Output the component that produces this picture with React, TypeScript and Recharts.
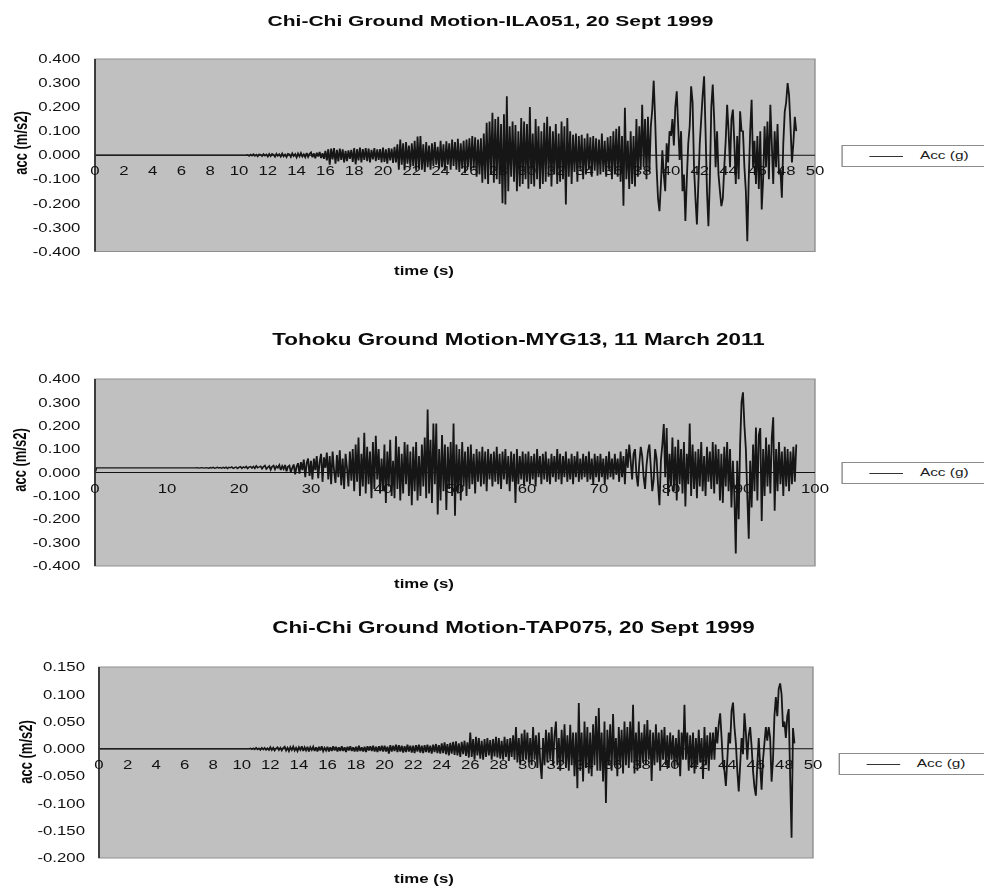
import React from "react";
import {
  LineChart,
  Line,
  XAxis,
  YAxis,
  CartesianGrid,
  ReferenceLine,
  ReferenceDot,
  ReferenceArea,
  Legend,
} from "recharts";

// the source picture is stretched sideways, so everything is drawn narrow and scaled
const SX = 1.4;
const PAGE_W = 984;
const INNER_W = PAGE_W / SX;
const FONT = '"Liberation Sans", Arial, sans-serif';
const SERIES_NAME = "Acc (g)";

// ---- Chi-Chi ILA051, acc (g), one sample every 0.1 s ----
const ILA051_DT = 0.1;
const ILA051_ACC = [
  0,0,0,0,0,0,0,0,0,0, 0,0,0,0,0,0,0,0,0,0, 0,0,0,0,0,0,0,0,0,0, 0,0,0,0,0,0,0,0,0,0, 0,0,0,0,0,0,0,0,0,0,
  0,0,0,0,0,0,0,0,0,0, 0,0,0,0,0,0,0,0,0,0, 0,0,0,0,0,0,0,0,0,0, 0,0,0,0,0,0,0,0,0,0, 0,0,0,0,0,0,0,0,0,0,
  0,0,0,0,0,0,0.002,-0.003,0.003,-0.002,
  0.004,-0.003,0.002,-0.005,0.004,0.003,-0.004,0.005,-0.002,0.003,
  -0.006,0.005,-0.004,0.006,0.002,-0.007,0.006,-0.003,0.004,-0.006,
  0.007,-0.005,0.003,-0.008,0.006,0.004,-0.007,0.008,-0.004,0.005,
  -0.009,0.007,-0.005,0.009,-0.006,0.004,-0.008,0.01,-0.007,0.006,
  0.012,-0.009,0.008,-0.013,0.011,-0.006,0.014,-0.012,0.009,-0.015,
  0.018,-0.022,0.025,-0.04,0.028,-0.018,0.03,-0.035,0.022,-0.026,
  0.028,-0.02,0.024,-0.03,0.018,-0.025,0.02,-0.015,0.022,-0.028,
  0.03,-0.038,0.025,-0.022,0.032,-0.03,0.026,-0.02,0.03,-0.025,
  0.028,-0.03,0.022,-0.018,0.03,-0.025,0.024,-0.02,0.026,-0.03,
  0.032,-0.028,0.025,-0.035,0.03,-0.022,0.028,-0.032,0.035,-0.03,
  0.045,-0.06,0.065,-0.04,0.05,-0.062,0.055,-0.035,0.04,-0.05,
  0.05,-0.045,0.06,-0.065,0.078,-0.055,0.08,-0.06,0.045,-0.07,
  0.055,-0.05,0.04,-0.06,0.05,-0.045,0.055,-0.04,0.035,-0.055,
  0.06,-0.05,0.045,-0.065,0.058,-0.04,0.05,-0.06,0.065,-0.045,
  0.055,-0.06,0.068,-0.07,0.05,-0.055,0.06,-0.075,0.065,-0.05,
  0.07,-0.06,0.08,-0.055,0.075,-0.09,0.065,-0.08,0.07,-0.115,
  0.09,-0.1,0.135,-0.12,0.14,-0.08,0.176,-0.115,0.15,-0.1,
  0.16,-0.12,0.13,-0.2,0.17,-0.205,0.245,-0.15,0.12,-0.09,
  0.14,-0.11,0.125,-0.15,0.1,-0.13,0.155,-0.12,0.14,-0.1,
  0.13,-0.14,0.2,-0.12,0.09,-0.13,0.15,-0.1,0.12,-0.14,
  0.1,-0.12,0.135,-0.11,0.16,-0.09,0.12,-0.13,0.1,-0.08,
  0.13,-0.12,0.09,-0.11,0.14,-0.1,0.12,-0.205,0.155,-0.09,
  0.1,-0.12,0.085,-0.07,0.09,-0.11,0.08,-0.06,0.085,-0.1,
  0.07,-0.08,0.09,-0.06,0.075,-0.09,0.08,-0.065,0.07,-0.085,
  0.065,-0.08,0.09,-0.07,0.06,-0.09,0.075,-0.06,0.08,-0.1,
  0.1,-0.08,0.11,-0.09,0.12,-0.11,0.08,-0.21,0.197,-0.1,
  0.06,-0.14,0.1,-0.12,0.08,-0.13,0.15,-0.09,0.12,-0.06,
  0.21,-0.05,0.15,-0.1,0.16,-0.07,0.12,0.19,0.31,0.15,
  -0.05,-0.18,-0.233,-0.12,0.02,-0.08,-0.15,0.05,-0.03,0.1,
  0.08,0.15,0.04,0.2,0.266,0.12,-0.02,0.1,-0.15,-0.08,
  -0.274,-0.1,0.05,0.12,0.287,0.22,-0.05,-0.18,-0.288,-0.12,
  0.05,0.15,0.25,0.328,0.1,-0.15,-0.295,-0.1,0.2,0.294,
  0.15,-0.05,0.1,-0.08,-0.15,-0.212,-0.18,-0.05,0.06,0.21,
  0.1,-0.05,0.15,0.19,0.05,-0.12,0.08,-0.1,0.183,0.1,
  0.1,-0.05,-0.15,-0.358,-0.1,0.1,0.23,-0.05,0.06,-0.12,
  0.08,-0.14,0.1,-0.226,-0.1,0.12,-0.05,0.14,-0.1,0.21,
  0.05,-0.12,0.1,-0.05,0.13,-0.08,-0.06,-0.177,0.05,0.18,
  0.22,0.3,0.25,0.12,-0.03,0.05,0.16,0.1,
];

// ---- Tohoku MYG13, acc (g), one sample every 0.2 s ----
const MYG13_DT = 0.2;
const MYG13_ACC = [
  0,0.02,0.02,0.02,0.02,0.02,0.02,0.02,0.02,0.02,
  0.02,0.02,0.02,0.02,0.02,0.02,0.02,0.02,0.02,0.02,
  0.02,0.02,0.02,0.02,0.02,0.02,0.02,0.02,0.02,0.02,
  0.02,0.02,0.02,0.02,0.02,0.02,0.02,0.02,0.02,0.02,
  0.02,0.02,0.02,0.02,0.02,0.02,0.02,0.02,0.02,0.02,
  0.02,0.02,0.02,0.02,0.02,0.02,0.02,0.02,0.02,0.02,
  0.02,0.02,0.02,0.02,0.02,0.02,0.02,0.02,0.02,0.02,
  0.02,0.021,0.019,0.02,0.021,0.02,0.019,0.021,0.02,0.018,
  0.021,0.019,0.022,0.018,0.02,0.022,0.019,0.021,0.018,0.022,
  0.019,0.023,0.017,0.022,0.02,0.024,0.018,0.021,0.023,0.017,
  0.022,0.025,0.018,0.024,0.02,0.026,0.017,0.023,0.025,0.019,
  0.026,0.018,0.028,0.02,0.024,0.027,0.016,0.025,0.03,0.015,
  0.022,0.028,0.012,0.025,0.03,0.014,0.027,0.02,0.032,0.01,
  0.028,0.015,0.033,0.005,0.025,0.03,0.002,0.02,0.035,-0.008,
  0.025,0.04,-0.005,0.045,0.01,0.055,-0.02,0.04,0.06,-0.015,
  0.05,-0.03,0.06,0.01,0.07,-0.025,0.045,0.08,-0.04,0.065,
  0.02,0.085,-0.03,0.07,-0.05,0.09,0.01,-0.045,0.075,-0.02,
  0.095,-0.055,0.06,-0.07,0.08,0.02,-0.06,0.09,-0.035,0.1,
  -0.08,0.12,-0.04,0.15,-0.1,0.08,-0.06,0.17,-0.09,0.11,
  -0.05,0.09,-0.11,0.13,-0.07,0.157,-0.03,0.1,-0.09,0.06,
  -0.08,0.12,-0.13,0.09,-0.06,0.14,-0.1,0.05,-0.11,0.155,
  -0.07,0.11,-0.12,0.08,-0.09,0.13,-0.05,0.12,-0.1,0.09,
  -0.14,0.11,-0.08,0.13,-0.12,0.07,-0.1,0.12,-0.06,0.15,
  -0.11,0.27,-0.09,0.14,-0.13,0.21,-0.05,0.21,-0.18,0.1,
  -0.12,0.16,-0.08,0.12,-0.16,0.11,-0.07,0.13,-0.1,0.21,
  -0.185,0.12,-0.09,0.1,-0.12,0.13,-0.06,0.09,-0.1,0.11,
  -0.07,0.12,-0.05,0.08,-0.09,0.1,-0.04,0.09,-0.06,0.11,
  -0.05,0.09,-0.08,0.1,-0.03,0.08,-0.06,0.09,-0.04,0.11,
  -0.05,0.08,-0.07,0.09,-0.03,0.1,-0.05,0.07,-0.08,0.09,
  -0.04,0.08,-0.13,0.1,-0.05,0.07,-0.03,0.09,-0.06,0.08,
  -0.04,0.09,-0.05,0.07,-0.03,0.08,-0.06,0.1,-0.02,0.07,
  -0.05,0.08,-0.03,0.09,-0.04,0.06,-0.05,0.08,-0.02,0.07,
  -0.04,0.1,-0.03,0.08,-0.05,0.07,-0.02,0.09,-0.04,0.06,
  -0.03,0.08,-0.05,0.07,-0.02,0.09,-0.04,0.06,-0.03,0.08,
  -0.02,0.07,-0.04,0.09,-0.03,0.06,-0.05,0.08,-0.02,0.07,
  -0.04,0.08,-0.02,0.06,-0.05,0.07,-0.03,0.09,-0.02,0.06,
  -0.03,0.08,-0.01,0.06,-0.04,0.09,-0.02,0.07,-0.05,0.1,
  0.02,0.12,0.05,-0.03,0.08,0.1,-0.01,-0.06,0.04,0.11,
  0.07,-0.02,-0.07,0.03,0.09,0.12,0.02,-0.08,-0.03,0.1,
  0.06,-0.05,-0.14,0.05,0.12,0.207,-0.02,0.19,-0.1,0.08,
  -0.06,0.15,-0.08,0.11,-0.12,0.14,-0.05,0.1,-0.09,0.13,
  -0.145,0.08,-0.05,0.21,-0.1,0.12,-0.07,0.09,-0.11,0.1,
  -0.06,0.13,-0.08,0.07,-0.1,0.11,-0.04,0.09,-0.07,0.13,
  -0.09,0.12,-0.05,0.1,-0.12,0.08,-0.13,0.11,-0.06,0.13,
  -0.08,0.1,-0.15,0.05,-0.1,-0.347,0.05,-0.2,0.12,0.3,
  0.343,0.2,0.1,-0.1,-0.283,0.05,-0.15,0.12,-0.08,0.193,
  -0.12,0.16,0.19,-0.207,0.1,-0.1,0.15,-0.06,0.12,-0.09,
  0.15,0.236,-0.164,0.1,-0.08,0.13,-0.05,0.09,-0.1,0.11,
  -0.06,0.1,-0.08,0.09,-0.05,0.11,-0.04,0.12,
];

// ---- Chi-Chi TAP075, acc (g), one sample every 0.1 s ----
const TAP075_DT = 0.1;
const TAP075_ACC = [
  0,0,0,0,0,0,0,0,0,0, 0,0,0,0,0,0,0,0,0,0, 0,0,0,0,0,0,0,0,0,0, 0,0,0,0,0,0,0,0,0,0, 0,0,0,0,0,0,0,0,0,0,
  0,0,0,0,0,0,0,0,0,0, 0,0,0,0,0,0,0,0,0,0, 0,0,0,0,0,0,0,0,0,0, 0,0,0,0,0,0,0,0,0,0, 0,0,0,0,0,0,0,0,0,0,
  0,0,0,0,0,0,0.001,-0.001,0.001,-0.001,
  0.002,-0.001,0.001,-0.002,0.002,-0.001,0.002,-0.002,0.001,-0.002,
  0.003,-0.002,0.002,-0.003,0.001,0.003,-0.002,0.002,-0.003,0.002,
  0.004,-0.003,0.002,-0.004,0.003,-0.002,0.004,-0.003,0.002,-0.004,
  0.003,-0.002,0.005,-0.004,0.003,-0.003,0.004,-0.005,0.003,-0.002,
  0.004,-0.004,0.003,-0.005,0.004,-0.003,0.005,-0.004,0.002,-0.003,
  0.004,-0.005,0.003,-0.004,0.005,-0.003,0.004,-0.005,0.003,-0.004,
  0.005,-0.004,0.003,-0.006,0.004,-0.003,0.005,-0.004,0.003,-0.005,
  0.004,-0.005,0.006,-0.004,0.003,-0.005,0.004,-0.006,0.005,-0.003,
  0.005,-0.004,0.006,-0.005,0.004,-0.006,0.005,-0.004,0.006,-0.005,
  0.006,-0.005,0.004,-0.009,0.007,-0.005,0.006,-0.004,0.008,-0.006,
  0.007,-0.005,0.006,-0.007,0.005,-0.006,0.008,-0.005,0.006,-0.007,
  0.006,-0.008,0.007,-0.005,0.008,-0.007,0.006,-0.008,0.007,-0.006,
  0.008,-0.007,0.006,-0.009,0.008,-0.006,0.009,-0.008,0.007,-0.009,
  0.01,-0.008,0.012,-0.01,0.009,-0.012,0.011,-0.009,0.013,-0.011,
  0.014,-0.012,0.01,-0.015,0.013,-0.01,0.015,-0.013,0.012,-0.016,
  0.03,-0.015,0.018,-0.02,0.022,-0.012,0.02,-0.018,0.015,-0.02,
  0.018,-0.015,0.02,-0.012,0.016,-0.02,0.018,-0.014,0.022,-0.016,
  0.02,-0.018,0.015,-0.02,0.022,-0.015,0.018,-0.022,0.02,-0.015,
  0.025,-0.02,0.04,-0.025,0.02,-0.03,0.028,-0.022,0.035,-0.02,
  0.03,-0.025,0.02,-0.03,0.04,-0.02,0.025,-0.035,0.03,-0.025,
  -0.055,0.02,-0.03,0.035,-0.025,0.03,-0.02,0.04,-0.03,0.025,
  0.05,-0.03,0.02,-0.04,0.035,-0.025,0.045,-0.035,0.025,-0.04,
  0.044,-0.03,0.03,-0.05,0.03,-0.072,0.084,-0.04,0.03,-0.06,
  0.05,-0.035,0.04,-0.045,0.03,-0.05,0.045,-0.03,0.06,-0.04,
  0.075,-0.04,0.03,-0.06,0.05,-0.099,0.035,-0.03,0.045,-0.04,
  0.064,-0.03,0.02,-0.05,0.04,-0.03,0.035,-0.045,0.05,-0.03,
  0.04,-0.035,0.05,-0.025,0.081,-0.045,0.03,-0.04,0.05,-0.035,
  0.03,-0.025,0.045,-0.03,0.053,-0.02,0.035,-0.059,0.03,-0.03,
  0.045,-0.025,0.03,-0.04,0.035,-0.02,0.04,-0.03,0.025,-0.035,
  0.03,-0.02,0.025,-0.035,0.02,-0.03,0.035,-0.05,0.03,-0.02,
  0.081,-0.02,0.03,-0.04,0.025,-0.035,0.03,-0.045,0.02,-0.03,
  0.035,-0.025,0.02,-0.055,0.04,-0.03,0.025,-0.04,0.03,-0.02,
  0.03,-0.02,0.04,0.01,0.045,0.065,0.02,-0.03,-0.04,-0.068,
  -0.02,0.03,0.01,0.07,0.085,0.04,0.01,-0.04,-0.078,-0.03,
  0.02,-0.01,0.065,0.03,-0.02,0.025,0.04,0.005,-0.04,-0.07,
  -0.086,-0.03,0.02,-0.03,-0.075,-0.02,0.01,0.04,0.015,0.04,
  0.02,-0.06,-0.02,0.06,0.095,0.06,0.11,0.12,0.1,0.04,
  0.05,0.02,0.06,0.073,-0.05,-0.163,0.038,0.01,
];

const TICKS_50 = [0, 2, 4, 6, 8, 10, 12, 14, 16, 18, 20, 22, 24, 26, 28, 30, 32, 34, 36, 38, 40, 42, 44, 46, 48, 50];
const TICKS_100 = [0, 10, 20, 30, 40, 50, 60, 70, 80, 90, 100];
const Y_TICKS_04 = [-0.4, -0.3, -0.2, -0.1, 0, 0.1, 0.2, 0.3, 0.4];
const Y_TICKS_015 = [-0.2, -0.15, -0.1, -0.05, 0, 0.05, 0.1, 0.15];

interface PanelProps {
  title: string;
  titleSize: number;
  titleX: number;
  titleY: number;
  yLabelX: number;
  yLabelY: number;
  timeY: number;
  plotTop: number;
  plotBottom: number;
  plotLeft: number;
  plotRight: number;
  tickGap: number;
  legendLeft: number;
  legendTop: number;
  values: number[];
  dt: number;
  xMax: number;
  xTicks: number[];
  yTicks: number[];
}

const LegendBox = () => (
  <div
    style={{
      position: "relative",
      width: 140,
      height: 20,
      border: "1px solid #8c8c8c",
      background: "#fff",
      fontFamily: FONT,
      fontSize: 11,
      color: "#1a1a1a",
    }}
  >
    <div
      style={{
        position: "absolute",
        left: 19,
        top: 10,
        width: 24,
        borderTop: "1px solid #333",
      }}
    />
    <span style={{ position: "absolute", left: 55, top: 3, whiteSpace: "nowrap" }}>
      {SERIES_NAME}
    </span>
  </div>
);

function Panel(p: PanelProps) {
  const rows = p.values.map((v, i) => ({ t: Math.round(i * p.dt * 100) / 100, acc: v }));
  const yMin = p.yTicks[0];
  const yMax = p.yTicks[p.yTicks.length - 1];
  const left = p.plotLeft / SX;
  const right = p.plotRight / SX;
  const chartTop = p.plotTop - 10;
  const height = p.plotBottom - p.plotTop + 20;

  return (
    <>
      <div
        style={{
          position: "absolute",
          left: p.titleX / SX,
          top: p.titleY,
          transform: "translate(-50%, -50%)",
          fontSize: p.titleSize,
          fontWeight: 700,
          whiteSpace: "nowrap",
          color: "#0a0a0a",
        }}
      >
        {p.title}
      </div>
      <div
        style={{
          position: "absolute",
          left: p.yLabelX / SX,
          top: p.yLabelY,
          transform: "translate(-50%, -50%) rotate(-90deg)",
          fontSize: 13,
          fontWeight: 700,
          whiteSpace: "nowrap",
          color: "#0a0a0a",
        }}
      >
        acc (m/s2)
      </div>
      <div style={{ position: "absolute", left: 0, top: chartTop }}>
        <LineChart
          width={INNER_W}
          height={height}
          data={rows}
          margin={{ top: 10, bottom: 10, left: 0, right: INNER_W - right }}
        >
          <CartesianGrid
            horizontal={false}
            vertical={false}
            stroke="none"
            fill="#c0c0c0"
            fillOpacity={1}
          />
          <XAxis type="number" dataKey="t" domain={[0, p.xMax]} hide />
          <YAxis
            type="number"
            domain={[yMin, yMax]}
            allowDataOverflow
            ticks={p.yTicks}
            interval={0}
            width={left}
            tickLine={false}
            tickSize={0}
            tickMargin={p.tickGap}
            axisLine={{ stroke: "#333", strokeWidth: 1.3 }}
            tick={{ fontSize: 12, fill: "#111", fontFamily: FONT }}
            tickFormatter={(v: number) => v.toFixed(3)}
          />
          <ReferenceArea
            x1={0}
            x2={p.xMax}
            y1={yMin}
            y2={yMax}
            fill="none"
            stroke="#8f8f8f"
          />
          <ReferenceLine y={0} stroke="#111" strokeWidth={1} />
          <Line
            type="linear"
            dataKey="acc"
            name={SERIES_NAME}
            stroke="#161616"
            strokeWidth={1.3}
            dot={false}
            isAnimationActive={false}
          />
          {p.xTicks.map((t) => (
            <ReferenceDot
              key={t}
              x={t}
              y={0}
              r={0}
              stroke="none"
              fill="none"
              label={{
                value: String(t),
                position: "bottom",
                offset: 11.5,
                fontSize: 12,
                fill: "#111",
                fontFamily: FONT,
              }}
            />
          ))}
          <Legend
            layout="vertical"
            align="center"
            verticalAlign="middle"
            content={() => <LegendBox />}
            wrapperStyle={{
              left: p.legendLeft / SX,
              top: p.legendTop - chartTop,
              width: 160,
              height: "auto",
            }}
          />
        </LineChart>
      </div>
      <div
        style={{
          position: "absolute",
          left: 424 / SX,
          top: p.timeY,
          transform: "translate(-50%, -50%)",
          fontSize: 12,
          fontWeight: 700,
          whiteSpace: "nowrap",
          color: "#0a0a0a",
        }}
      >
        time (s)
      </div>
    </>
  );
}

export default function App() {
  return (
    <div
      style={{
        position: "relative",
        width: PAGE_W,
        height: 888,
        overflow: "hidden",
        background: "#fff",
        fontFamily: FONT,
      }}
    >
      <style>{"body{margin:0;}"}</style>
      <div
        style={{
          position: "absolute",
          left: 0,
          top: 0,
          width: INNER_W,
          height: 888,
          transform: `scaleX(${SX})`,
          transformOrigin: "0 0",
        }}
      >
        <Panel
          title="Chi-Chi Ground Motion-ILA051, 20 Sept 1999"
          titleSize={15}
          titleX={490.5}
          titleY={20}
          yLabelX={21}
          yLabelY={143}
          timeY={271}
          plotTop={59.3}
          plotBottom={251.7}
          plotLeft={95}
          plotRight={815}
          tickGap={10.5}
          legendLeft={841.5}
          legendTop={145}
          values={ILA051_ACC}
          dt={ILA051_DT}
          xMax={50}
          xTicks={TICKS_50}
          yTicks={Y_TICKS_04}
        />
        <Panel
          title="Tohoku Ground Motion-MYG13, 11 March 2011"
          titleSize={16}
          titleX={518.5}
          titleY={339.5}
          yLabelX={20}
          yLabelY={460}
          timeY={584}
          plotTop={379}
          plotBottom={566}
          plotLeft={95}
          plotRight={815}
          tickGap={10.5}
          legendLeft={841.5}
          legendTop={461.5}
          values={MYG13_ACC}
          dt={MYG13_DT}
          xMax={100}
          xTicks={TICKS_100}
          yTicks={Y_TICKS_04}
        />
        <Panel
          title="Chi-Chi Ground Motion-TAP075, 20 Sept 1999"
          titleSize={16}
          titleX={513.5}
          titleY={628}
          yLabelX={25}
          yLabelY={752}
          timeY={878.5}
          plotTop={667.3}
          plotBottom={858.3}
          plotLeft={99}
          plotRight={813}
          tickGap={10}
          legendLeft={838.3}
          legendTop={753.3}
          values={TAP075_ACC}
          dt={TAP075_DT}
          xMax={50}
          xTicks={TICKS_50}
          yTicks={Y_TICKS_015}
        />
      </div>
    </div>
  );
}
